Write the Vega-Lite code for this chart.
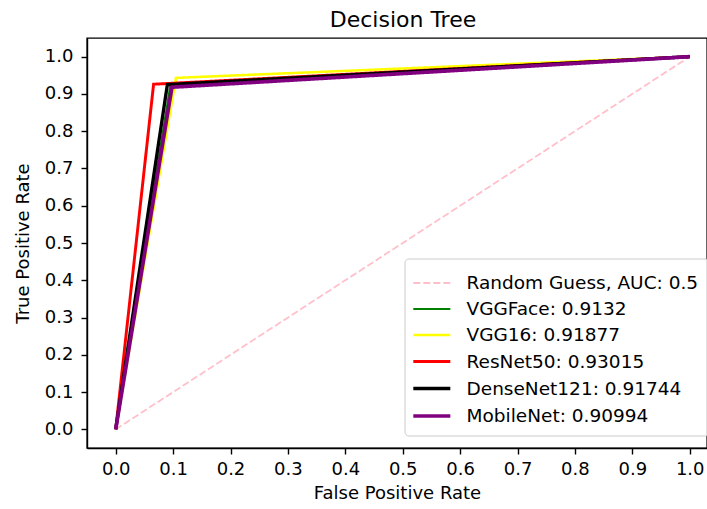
{
  "$schema": "https://vega.github.io/schema/vega-lite/v6.json",
  "autosize": {"type": "none"},
  "padding": {"left": 87, "top": 38, "right": 0, "bottom": 61},
  "width": 620,
  "height": 410,
  "background": "white",
  "title": {"text": "Decision Tree", "fontSize": 22, "font": "DejaVu Sans", "fontWeight": "normal", "color": "#000000", "dx": 6, "offset": 6},
  "config": {
    "font": "DejaVu Sans",
    "view": {"stroke": "#000000", "strokeWidth": 1.4},
    "axis": {
      "grid": false,
      "domainColor": "#000000",
      "domainWidth": 1.4,
      "tickColor": "#000000",
      "tickWidth": 1.4,
      "tickSize": 6,
      "labelFont": "DejaVu Sans",
      "labelFontSize": 18,
      "labelColor": "#000000",
      "titleFont": "DejaVu Sans",
      "titleFontSize": 18,
      "titleFontWeight": "normal",
      "titleColor": "#000000"
    }
  },
  "data": {
    "values": [
      {"series": "Random Guess, AUC: 0.5", "fpr": 0, "tpr": 0, "idx": 0},
      {"series": "Random Guess, AUC: 0.5", "fpr": 1, "tpr": 1, "idx": 1},
      {"series": "VGGFace: 0.9132", "fpr": 0, "tpr": 0, "idx": 0},
      {"series": "VGGFace: 0.9132", "fpr": 0.095, "tpr": 0.921, "idx": 1},
      {"series": "VGGFace: 0.9132", "fpr": 1, "tpr": 1, "idx": 2},
      {"series": "VGG16: 0.91877", "fpr": 0, "tpr": 0, "idx": 0},
      {"series": "VGG16: 0.91877", "fpr": 0.105, "tpr": 0.943, "idx": 1},
      {"series": "VGG16: 0.91877", "fpr": 1, "tpr": 1, "idx": 2},
      {"series": "ResNet50: 0.93015", "fpr": 0, "tpr": 0, "idx": 0},
      {"series": "ResNet50: 0.93015", "fpr": 0.066, "tpr": 0.926, "idx": 1},
      {"series": "ResNet50: 0.93015", "fpr": 1, "tpr": 1, "idx": 2},
      {"series": "DenseNet121: 0.91744", "fpr": 0, "tpr": 0, "idx": 0},
      {"series": "DenseNet121: 0.91744", "fpr": 0.09, "tpr": 0.925, "idx": 1},
      {"series": "DenseNet121: 0.91744", "fpr": 1, "tpr": 1, "idx": 2},
      {"series": "MobileNet: 0.90994", "fpr": 0, "tpr": 0, "idx": 0},
      {"series": "MobileNet: 0.90994", "fpr": 0.098, "tpr": 0.918, "idx": 1},
      {"series": "MobileNet: 0.90994", "fpr": 1, "tpr": 1, "idx": 2}
    ]
  },
  "mark": {"type": "line", "clip": true},
  "encoding": {
    "x": {
      "field": "fpr", "type": "quantitative",
      "scale": {"domain": [-0.05, 1.0301], "nice": false, "zero": false},
      "axis": {"values": [0, 0.1, 0.2, 0.3, 0.4, 0.5, 0.6, 0.7, 0.8, 0.9, 1.0], "format": ".1f", "title": "False Positive Rate", "labelPadding": 6, "titlePadding": 6, "labelFlush": false}
    },
    "y": {
      "field": "tpr", "type": "quantitative",
      "scale": {"domain": [-0.05, 1.05], "nice": false, "zero": false},
      "axis": {"values": [0, 0.1, 0.2, 0.3, 0.4, 0.5, 0.6, 0.7, 0.8, 0.9, 1.0], "format": ".1f", "title": "True Positive Rate", "labelPadding": 8, "titlePadding": 12, "labelFlush": false}
    },
    "order": {"field": "idx", "type": "quantitative"},
    "color": {
      "field": "series", "type": "nominal",
      "scale": {
        "domain": ["Random Guess, AUC: 0.5", "VGGFace: 0.9132", "VGG16: 0.91877", "ResNet50: 0.93015", "DenseNet121: 0.91744", "MobileNet: 0.90994"],
        "range": ["#ffc0cb", "#008000", "#ffff00", "#ff0000", "#000000", "#800080"]
      },
      "legend": {
        "title": null,
        "orient": "none",
        "legendX": 317.5,
        "legendY": 220.5,
        "symbolType": "M-1.265,0H1.54",
        "symbolSize": 697,
        "symbolStrokeWidth": 3.7,
        "labelFontSize": 18.5,
        "labelFont": "DejaVu Sans",
        "labelColor": "#000000",
        "labelOffset": 21,
        "rowPadding": 2,
        "padding": 10,
        "fillColor": "rgba(255,255,255,0.8)",
        "strokeColor": "#cccccc",
        "cornerRadius": 4,
        "labelLimit": 400
      }
    },
    "strokeDash": {
      "field": "series", "type": "nominal",
      "scale": {
        "domain": ["Random Guess, AUC: 0.5", "VGGFace: 0.9132", "VGG16: 0.91877", "ResNet50: 0.93015", "DenseNet121: 0.91744", "MobileNet: 0.90994"],
        "range": [[7, 3], [1, 0], [1, 0], [1, 0], [1, 0], [1, 0]]
      },
      "legend": null
    },
    "strokeWidth": {
      "field": "series", "type": "nominal",
      "scale": {
        "domain": ["Random Guess, AUC: 0.5", "VGGFace: 0.9132", "VGG16: 0.91877", "ResNet50: 0.93015", "DenseNet121: 0.91744", "MobileNet: 0.90994"],
        "range": [1.8, 3.7, 3.7, 3.7, 3.7, 3.7]
      },
      "legend": null
    }
  }
}
